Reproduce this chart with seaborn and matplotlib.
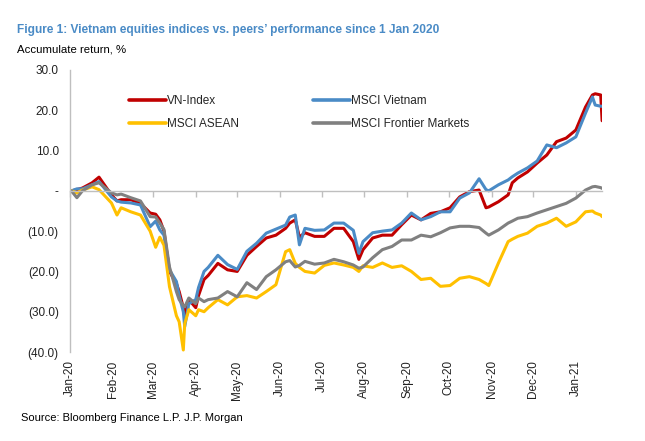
import pandas as pd
import numpy as np
import matplotlib
matplotlib.use("Agg")
import matplotlib.pyplot as plt
import matplotlib.dates as mdates
from matplotlib.ticker import FuncFormatter, MultipleLocator
import seaborn as sns

# Datos (retorno acumulado, %)
fechas = [
    "2020-01-02", "2020-01-06", "2020-01-10", "2020-01-17", "2020-01-22", "2020-01-31",
    "2020-02-04", "2020-02-07", "2020-02-14", "2020-02-21", "2020-02-28", "2020-03-03",
    "2020-03-06", "2020-03-09", "2020-03-13", "2020-03-18", "2020-03-20", "2020-03-23",
    "2020-03-24", "2020-03-27", "2020-04-01", "2020-04-03", "2020-04-07", "2020-04-10",
    "2020-04-17", "2020-04-24", "2020-05-01", "2020-05-08", "2020-05-15", "2020-05-22",
    "2020-05-29", "2020-06-05", "2020-06-08", "2020-06-12", "2020-06-15", "2020-06-19",
    "2020-06-26", "2020-07-03", "2020-07-10", "2020-07-17", "2020-07-24", "2020-07-28",
    "2020-07-31", "2020-08-07", "2020-08-14", "2020-08-21", "2020-08-28", "2020-09-04",
    "2020-09-11", "2020-09-18", "2020-09-25", "2020-10-02", "2020-10-09", "2020-10-16",
    "2020-10-23", "2020-10-28", "2020-10-30", "2020-11-06", "2020-11-13", "2020-11-16",
    "2020-11-20", "2020-11-27", "2020-12-04", "2020-12-11", "2020-12-18", "2020-12-25",
    "2021-01-01", "2021-01-08", "2021-01-13", "2021-01-15", "2021-01-19", "2021-01-20",
]

vn_index = [
    0.0, 0.3, 0.7, 2.0, 3.4, -1.0, -2.5, -2.2, -2.2, -3.1, -5.5, -5.8,
    -7.2, -10.0, -20.0, -23.0, -25.0, -29.0, -31.0, -27.0, -29.0, -26.0, -22.0, -21.0,
    -18.0, -19.6, -20.0, -16.0, -13.8, -11.7, -11.0, -9.3, -8.0, -7.2, -11.5, -10.4,
    -11.3, -11.3, -9.3, -9.3, -12.6, -17.0, -14.6, -11.7, -11.0, -11.0, -8.4, -6.0,
    -7.2, -5.6, -5.2, -4.2, -1.5, -0.2, 0.2, -4.2, -4.0, -2.7, -1.0, 2.0,
    3.2, 4.7, 6.9, 8.9, 12.2, 13.1, 15.1, 20.8, 23.8, 24.1, 23.8, 17.4,
]

msci_vietnam = [
    0.0, 0.5, 0.5, 1.5, 2.3, -1.5, -2.5, -2.8, -3.0, -3.5, -8.9, -7.5,
    -9.7, -11.0, -19.6, -22.5, -26.0, -30.0, -33.7, -28.0, -27.0, -24.0, -20.0, -19.0,
    -16.0, -18.3, -19.5, -15.0, -13.0, -10.5, -9.5, -8.5, -6.5, -6.0, -13.4, -9.3,
    -9.8, -9.7, -8.0, -8.0, -9.8, -15.5, -12.6, -10.4, -10.0, -9.7, -8.0, -5.5,
    -7.2, -6.4, -5.2, -5.2, -1.8, -0.5, 3.0, 0.3, 0.0, 1.5, 2.7, 3.5,
    4.4, 5.7, 7.4, 11.4, 10.7, 11.9, 13.4, 19.3, 23.3, 21.3, 21.0, 21.0,
]

msci_asean = [
    0.0, -0.5, 0.2, 1.0, 0.3, -3.0, -6.0, -4.2, -5.2, -6.0, -10.0, -14.0,
    -11.5, -13.5, -23.8, -31.0, -32.5, -39.5, -33.0, -29.5, -31.0, -29.5, -30.0, -29.0,
    -27.0, -28.3, -26.3, -26.0, -26.6, -25.0, -23.3, -15.1, -14.6, -18.0, -19.0, -20.0,
    -20.4, -18.5, -17.9, -18.4, -19.0, -20.0, -18.6, -19.0, -17.9, -19.0, -18.6, -20.0,
    -22.0, -21.7, -23.7, -23.5, -21.7, -21.3, -22.0, -23.0, -23.5, -17.9, -12.6, -12.0,
    -11.3, -10.5, -8.8, -8.0, -6.8, -8.8, -7.7, -5.2, -5.0, -5.5, -6.0, -6.4,
]

msci_frontier = [
    0.0, -1.7, 0.0, 1.5, 2.0, -0.5, -1.0, -0.8, -1.7, -2.5, -6.4, -6.5,
    -8.0, -9.6, -18.9, -25.0, -27.0, -28.5, -28.8, -26.6, -28.0, -26.6, -27.5, -27.0,
    -26.6, -25.0, -26.3, -22.8, -24.5, -21.3, -19.6, -17.6, -17.3, -18.9, -18.5, -17.5,
    -18.2, -17.9, -17.0, -17.6, -18.4, -19.2, -18.9, -16.6, -14.6, -13.8, -12.2, -12.2,
    -11.0, -11.4, -10.4, -9.2, -8.8, -8.8, -9.1, -10.5, -11.0, -9.7, -8.0, -7.5,
    -6.8, -6.4, -5.5, -4.7, -3.9, -3.1, -1.8, 0.2, 1.0, 1.1, 0.8, 0.6,
]

series = ["VN-Index", "MSCI Vietnam", "MSCI ASEAN", "MSCI Frontier Markets"]
colores = ["#C00000", "#4A8BC6", "#FFC000", "#808080"]

df = pd.DataFrame({
    "fecha": pd.to_datetime(fechas),
    "VN-Index": vn_index,
    "MSCI Vietnam": msci_vietnam,
    "MSCI ASEAN": msci_asean,
    "MSCI Frontier Markets": msci_frontier,
})
df_largo = df.melt(id_vars="fecha", var_name="serie", value_name="retorno")

sns.set_theme(style="white")
plt.rcParams['font.family'] = ['Liberation Sans', 'DejaVu Sans']

fig = plt.figure(figsize=(6.45, 4.41), dpi=100)
ax = fig.add_axes([0.1085, 0.2018, 0.825, 0.6395])

sns.lineplot(data=df_largo, x="fecha", y="retorno", hue="serie", hue_order=series,
             palette=colores, linewidth=2.2, ax=ax, legend=True)

# Ejes
ax.set_ylim(-40, 30)
ax.set_xlim(df["fecha"].iloc[0] - pd.Timedelta(days=1), df["fecha"].iloc[-1])
ax.yaxis.set_major_locator(MultipleLocator(10))

def fmt_y(v, pos):
    if abs(v) < 1e-9:
        return "-"
    if v < 0:
        return f"({abs(v):.1f})"
    return f"{v:.1f}"

ax.yaxis.set_major_formatter(FuncFormatter(fmt_y))
ax.xaxis.set_major_locator(mdates.MonthLocator())
ax.set_xlabel("")
ax.set_ylabel("")

gris = "#BFBFBF"
for s in ["top", "right"]:
    ax.spines[s].set_visible(False)
ax.spines["left"].set_color(gris)
ax.spines["left"].set_linewidth(1.0)
# el eje x se dibuja en el nivel cero, con marcas hacia abajo y sin etiquetas
ax.spines["bottom"].set_position(("data", 0))
ax.spines["bottom"].set_color(gris)
ax.spines["bottom"].set_linewidth(1.0)
ax.tick_params(axis="y", which="major", direction="out", length=4, width=1,
               color=gris, labelsize=8.5, labelcolor="#222222", pad=4)
ax.tick_params(axis="x", which="major", direction="out", length=4, width=1,
               color=gris, labelbottom=False, bottom=True)

# etiquetas de mes abajo del gráfico
sec = ax.secondary_xaxis("bottom")
sec.xaxis.set_major_locator(mdates.MonthLocator())
sec.xaxis.set_major_formatter(mdates.DateFormatter("%b-%y"))
sec.spines["bottom"].set_visible(False)
sec.tick_params(axis="x", length=0, labelsize=8.5, labelcolor="#222222",
                labelrotation=90, pad=6)

# Leyenda
handles, labels = ax.get_legend_handles_labels()
orden = [labels.index(n) for n in ["VN-Index", "MSCI ASEAN", "MSCI Vietnam", "MSCI Frontier Markets"]]
for h in handles:
    h.set_linewidth(2.6)
ax.legend([handles[i] for i in orden], [labels[i] for i in orden], ncol=2,
          frameon=False, loc="upper left", bbox_to_anchor=(0.091, 0.949),
          fontsize=8.5, handlelength=3.1, handletextpad=0.1, columnspacing=6.3,
          labelspacing=0.95)

# Títulos y fuente
fig.text(0.026, 0.925, "Figure 1: Vietnam equities indices vs. peers’ performance since 1 Jan 2020",
         fontsize=8.6, fontweight="bold", color="#4A8BC6", ha="left", va="baseline")
fig.text(0.026, 0.882, "Accumulate return, %", fontsize=8.2, color="black",
         ha="left", va="baseline")
fig.text(0.033, 0.045, "Source: Bloomberg Finance L.P. J.P. Morgan", fontsize=8,
         color="black", ha="left", va="baseline")

plt.savefig("out.png", dpi=100)
